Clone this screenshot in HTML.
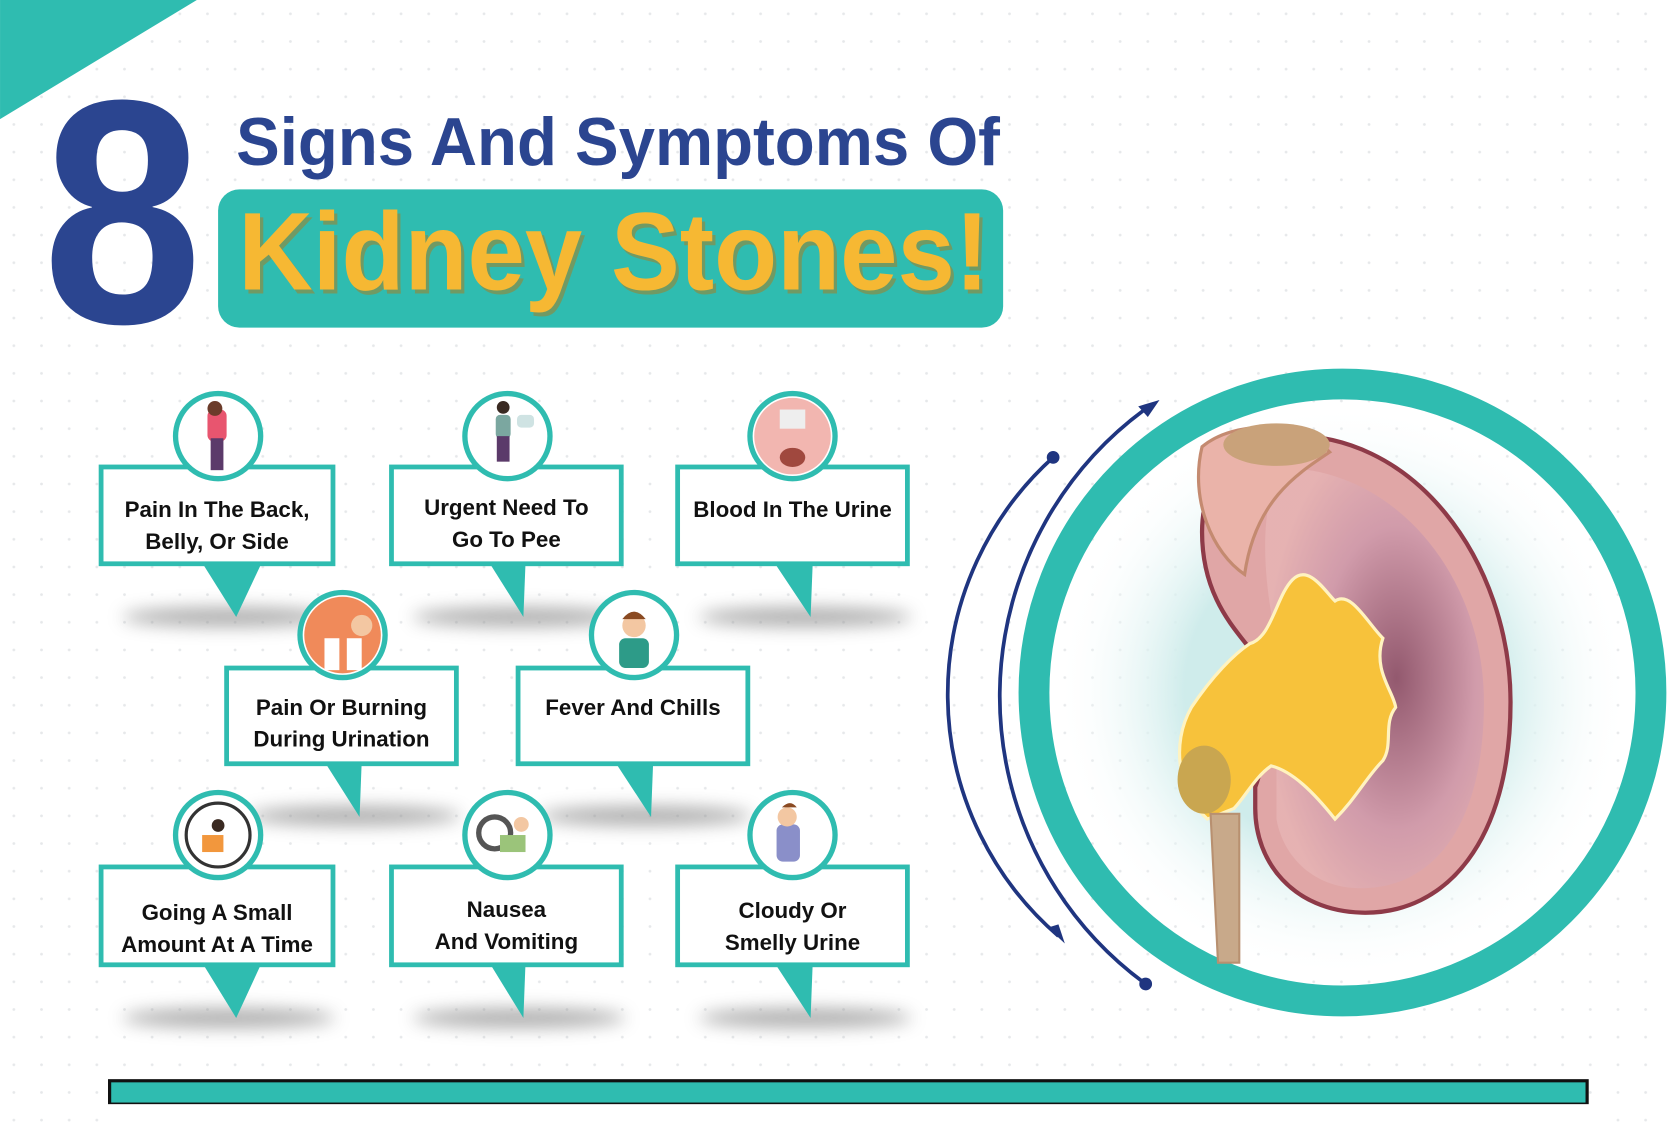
<!DOCTYPE html>
<html><head><meta charset="utf-8"><style>
html,body{margin:0;padding:0;background:#fff;}
svg{display:block;}
text{font-family:"Liberation Sans",sans-serif;font-weight:bold;}
</style></head><body>
<svg width="1668" height="1135" viewBox="0 0 1568 1067" xmlns="http://www.w3.org/2000/svg">
<defs>
<pattern id="dots" width="26" height="26" patternUnits="userSpaceOnUse"><circle cx="13" cy="13" r="1.3" fill="#e6e8ea"/></pattern>
<filter id="blur" x="-50%" y="-50%" width="200%" height="200%"><feGaussianBlur stdDeviation="8"/></filter>
<radialGradient id="glow" cx="0.5" cy="0.5" r="0.5"><stop offset="0.55" stop-color="#cfeceb"/><stop offset="1" stop-color="#ffffff" stop-opacity="0"/></radialGradient>
<radialGradient id="ctx" cx="0.6" cy="0.5" r="0.6"><stop offset="0" stop-color="#8a5068"/><stop offset="0.6" stop-color="#cf9aab"/><stop offset="1" stop-color="#e6b3b3"/></radialGradient>
</defs>
<rect width="1568" height="1067" fill="#fff"/>
<rect width="1568" height="1067" fill="url(#dots)"/>
<polygon points="0,0 185,0 0,112" fill="#2fbcb0"/>
<text x="40" y="303" font-size="300" fill="#2b4590" textLength="150" lengthAdjust="spacingAndGlyphs">8</text>
<text x="222" y="155" font-size="64" fill="#2b4590" textLength="718" lengthAdjust="spacingAndGlyphs">Signs And Symptoms Of</text>
<rect x="205" y="178" width="738" height="130" rx="20" fill="#2fbcb0"/>
<text x="224" y="272" font-size="104" fill="#b07a1a" opacity="0.5" textLength="706" lengthAdjust="spacingAndGlyphs" transform="translate(3,4)">Kidney Stones!</text>
<text x="224" y="272" font-size="104" fill="#f6b833" textLength="706" lengthAdjust="spacingAndGlyphs">Kidney Stones!</text>

<g fill="#8a8a8a" filter="url(#blur)" opacity="0.7">
<ellipse cx="215" cy="580" rx="100" ry="9"/><ellipse cx="488" cy="580" rx="100" ry="9"/><ellipse cx="757" cy="580" rx="100" ry="9"/>
<ellipse cx="333" cy="767" rx="100" ry="9"/><ellipse cx="607" cy="767" rx="100" ry="9"/>
<ellipse cx="215" cy="957" rx="100" ry="9"/><ellipse cx="488" cy="957" rx="100" ry="9"/><ellipse cx="757" cy="957" rx="100" ry="9"/>
</g>
<g stroke="#2fbcb0" stroke-width="4.5" fill="#fff">
<rect x="95" y="439" width="218" height="91"/><rect x="368" y="439" width="216" height="91"/><rect x="637" y="439" width="216" height="91"/>
<rect x="213" y="628" width="216" height="90"/><rect x="487" y="628" width="216" height="90"/>
<rect x="95" y="815" width="218" height="92"/><rect x="368" y="815" width="216" height="92"/><rect x="637" y="815" width="216" height="92"/>
</g>
<g fill="#2fbcb0">
<polygon points="190,529 246,529 222,580"/><polygon points="460,529 494,529 492,580"/><polygon points="728,529 764,529 762,580"/>
<polygon points="305,716 340,716 338,768"/><polygon points="578,716 614,716 612,768"/>
<polygon points="190,905 246,905 222,957"/><polygon points="460,905 494,905 492,957"/><polygon points="728,905 764,905 762,957"/>
</g>
<g stroke="#2fbcb0" stroke-width="5" fill="#fff">
<circle cx="205" cy="410" r="40"/><circle cx="477" cy="410" r="40"/><circle cx="745" cy="410" r="40"/>
<circle cx="322" cy="597" r="40"/><circle cx="596" cy="597" r="40"/>
<circle cx="205" cy="785" r="40"/><circle cx="477" cy="785" r="40"/><circle cx="745" cy="785" r="40"/>
</g>
<g>
<rect x="195" y="385" width="18" height="30" rx="6" fill="#e8556f"/><rect x="198" y="412" width="12" height="30" fill="#5b3a6a"/><circle cx="202" cy="384" r="7" fill="#6b3b2a"/>
<rect x="466" y="390" width="14" height="22" rx="4" fill="#7ba7a0"/><rect x="467" y="410" width="12" height="24" fill="#5b3a6a"/><circle cx="473" cy="383" r="6" fill="#3a2a22"/><rect x="486" y="390" width="16" height="12" rx="4" fill="#cfe3e3"/>
<circle cx="745" cy="410" r="36" fill="#f2b6b0"/><rect x="733" y="385" width="24" height="18" fill="#eee"/><ellipse cx="745" cy="430" rx="12" ry="9" fill="#a0483e"/>
<circle cx="322" cy="597" r="36" fill="#f08a5a"/><rect x="305" y="600" width="14" height="30" fill="#fff"/><circle cx="340" cy="588" r="10" fill="#f3c7a2"/><rect x="326" y="600" width="14" height="30" fill="#fff"/>
<rect x="582" y="600" width="28" height="28" rx="6" fill="#2d9b88"/><circle cx="596" cy="588" r="11" fill="#f3c7a2"/><path d="M585 582 q11 -14 22 0" fill="#8a4a22"/>
<circle cx="205" cy="785" r="30" fill="#fff" stroke="#333" stroke-width="3"/><rect x="190" y="785" width="20" height="16" fill="#f2973d"/><circle cx="205" cy="776" r="6" fill="#3a2a22"/>
<circle cx="465" cy="783" r="15" fill="none" stroke="#555" stroke-width="5"/><rect x="470" y="785" width="24" height="16" fill="#9bc47a"/><circle cx="490" cy="775" r="7" fill="#f3c7a2"/>
<rect x="730" y="775" width="22" height="35" rx="6" fill="#8a8fc9"/><circle cx="740" cy="768" r="9" fill="#f3c7a2"/><path d="M735 759 q8 -8 14 0" fill="#8a4a22"/>
</g>
<g font-size="21" fill="#111" text-anchor="middle">
<text x="204" y="486">Pain In The Back,</text><text x="204" y="516">Belly, Or Side</text>
<text x="476" y="484">Urgent Need To</text><text x="476" y="514">Go To Pee</text>
<text x="745" y="486">Blood In The Urine</text>
<text x="321" y="672">Pain Or Burning</text><text x="321" y="702">During Urination</text>
<text x="595" y="672">Fever And Chills</text>
<text x="204" y="865">Going A Small</text><text x="204" y="895">Amount At A Time</text>
<text x="476" y="862">Nausea</text><text x="476" y="892">And Vomiting</text>
<text x="745" y="863">Cloudy Or</text><text x="745" y="893">Smelly Urine</text>
</g>

<circle cx="1262" cy="650" r="270" fill="url(#glow)"/>
<circle cx="1262" cy="651" r="290" fill="none" stroke="#2fbcb0" stroke-width="29"/>
<g fill="none" stroke="#1f3580" stroke-width="3.5">
<path d="M990 430 A 300 300 0 0 0 995 880"/>
<path d="M1083 380 A 335 335 0 0 0 1077 925"/>
</g>
<circle cx="990" cy="430" r="6" fill="#1f3580"/><circle cx="1077" cy="925" r="6" fill="#1f3580"/>
<polygon points="1090,376 1070,382 1079,392" fill="#1f3580"/>
<polygon points="1001,887 985,872 995,869" fill="#1f3580"/>
<!-- kidney -->
<path d="M1200 410 C1330 400 1420 530 1420 660 C1420 790 1360 860 1280 858 C1215 856 1180 810 1180 760 L1180 740 C1195 700 1190 640 1175 610 C1160 590 1130 560 1130 500 C1130 450 1160 415 1200 410 Z" fill="#e0a6a6" stroke="#8e3a48" stroke-width="4"/>
<path d="M1205 440 C1310 440 1395 540 1395 660 C1395 780 1345 835 1280 835 C1230 835 1205 800 1200 770 L1200 600 C1190 560 1180 480 1205 440 Z" fill="url(#ctx)" opacity="0.9"/>
<path d="M1130 420 C1160 395 1220 395 1250 425 C1220 445 1180 470 1170 540 C1140 520 1118 470 1130 420 Z" fill="#eab3a9" stroke="#c48a70" stroke-width="3"/>
<ellipse cx="1200" cy="418" rx="50" ry="20" fill="#c9a27a"/>
<path d="M1175 605 C1195 600 1200 560 1215 545 C1230 530 1245 555 1255 565 C1270 555 1285 585 1300 600 C1290 630 1310 650 1312 665 C1300 680 1310 700 1300 715 C1285 730 1275 750 1255 770 C1235 745 1215 725 1195 720 C1180 730 1170 750 1160 760 L1135 770 C1108 745 1100 700 1120 665 C1140 635 1160 615 1175 605 Z" fill="#f7c23b" stroke="#fff3c0" stroke-width="3"/>
<ellipse cx="1132" cy="733" rx="25" ry="32" fill="#c9a650"/>
<path d="M1138 765 L1165 765 L1165 905 L1145 905 Z" fill="#c8a98a" stroke="#b89070" stroke-width="2"/>
<rect x="103" y="1016" width="1389" height="22" fill="#2fbcb0" stroke="#111" stroke-width="3"/>
<rect x="100" y="1038" width="1400" height="29" fill="#fff"/>
</svg>
</body></html>
